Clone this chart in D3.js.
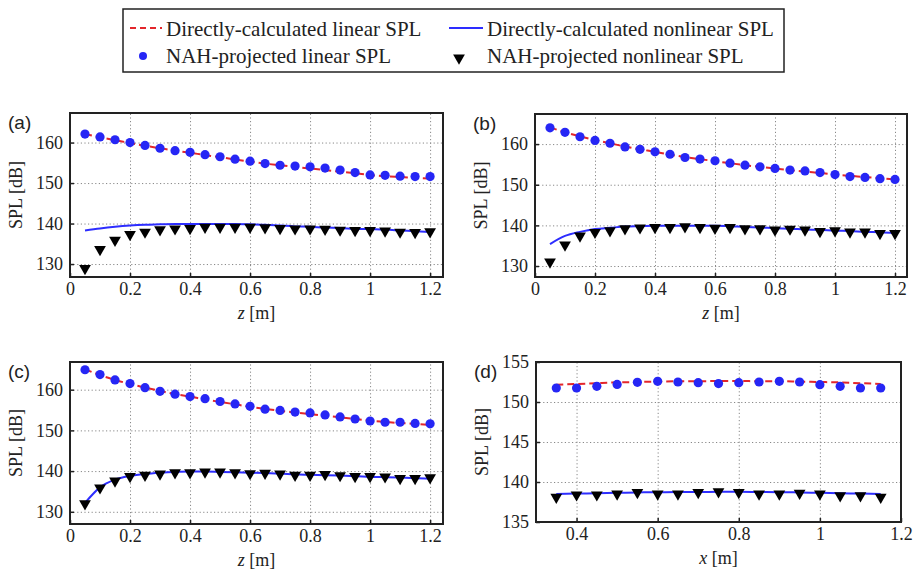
<!DOCTYPE html>
<html>
<head>
<meta charset="utf-8">
<script src="https://cdn.jsdelivr.net/npm/d3@7"></script>
<style>
  body { margin: 0; background: #fff; }
  text { font-family: "Liberation Serif", "Times New Roman", serif; fill: #222; }
</style>
</head>
<body>
<svg id="chart"></svg>
<script>
// chart data

var zVals = [0.05, 0.10, 0.15, 0.20, 0.25, 0.30, 0.35, 0.40, 0.45, 0.50, 0.55, 0.60,
             0.65, 0.70, 0.75, 0.80, 0.85, 0.90, 0.95, 1.00, 1.05, 1.10, 1.15, 1.20];
var xVals = [0.35, 0.40, 0.45, 0.50, 0.55, 0.60, 0.65, 0.70, 0.75, 0.80, 0.85, 0.90,
             0.95, 1.00, 1.05, 1.10, 1.15];

// (a)
var aLinLine = [162.1, 161.3, 160.6, 159.9, 159.2, 158.6, 158.0, 157.5, 156.9, 156.4, 155.8, 155.3,
                154.8, 154.4, 154.0, 153.6, 153.2, 152.8, 152.4, 152.0, 151.7, 151.5, 151.3, 151.1];
var aLinNah  = [162.1, 161.4, 160.7, 160.0, 159.3, 158.6, 158.0, 157.6, 157.0, 156.5, 155.9, 155.4,
                154.8, 154.4, 154.2, 154.0, 153.7, 153.2, 152.6, 152.0, 151.9, 151.7, 151.6, 151.6];
var aNonLine = [138.3, 138.8, 139.2, 139.5, 139.7, 139.8, 139.9, 139.9, 139.9, 139.9, 139.9, 139.8,
                139.7, 139.5, 139.3, 139.2, 139.0, 138.9, 138.7, 138.6, 138.5, 138.3, 138.1, 137.9];
var aNonNah  = [128.9, 133.6, 135.9, 137.3, 137.9, 138.5, 138.7, 138.8, 139.1, 139.1, 139.1, 139.1,
                139.0, 138.8, 138.7, 138.7, 138.6, 138.4, 138.3, 138.3, 138.2, 137.9, 137.8, 138.0];
// (b)
var bLinLine = [164.1, 162.9, 161.9, 161.0, 160.2, 159.4, 158.7, 158.1, 157.4, 156.8, 156.3, 155.8,
                155.3, 154.8, 154.4, 154.0, 153.6, 153.2, 152.9, 152.5, 152.2, 151.9, 151.6, 151.3];
var bLinNah  = [164.0, 162.9, 161.8, 160.9, 160.2, 159.3, 158.7, 158.1, 157.5, 156.7, 156.3, 155.9,
                155.3, 154.8, 154.4, 154.0, 153.6, 153.4, 153.0, 152.5, 152.0, 151.8, 151.5, 151.3];
var bNonLine = [135.4, 137.4, 138.4, 139.1, 139.4, 139.7, 139.8, 139.9, 139.9, 139.9, 139.9, 139.9,
                139.8, 139.6, 139.5, 139.3, 139.2, 139.0, 138.9, 138.7, 138.6, 138.4, 138.3, 138.1];
var bNonNah  = [131.0, 135.2, 137.4, 138.3, 138.7, 139.2, 139.4, 139.5, 139.5, 139.7, 139.5, 139.3,
                139.5, 139.2, 139.2, 138.9, 139.1, 138.9, 138.5, 138.7, 138.4, 138.4, 138.0, 138.0];
// (c)
var cLinLine = [165.0, 163.6, 162.4, 161.4, 160.5, 159.7, 158.9, 158.3, 157.6, 157.0, 156.4, 155.8,
                155.3, 154.8, 154.4, 154.0, 153.6, 153.2, 152.8, 152.4, 152.1, 151.8, 151.6, 151.3];
var cLinNah  = [164.9, 163.7, 162.4, 161.5, 160.5, 159.6, 158.9, 158.3, 157.8, 157.1, 156.5, 155.9,
                155.2, 154.9, 154.5, 154.3, 153.8, 153.3, 152.8, 152.3, 152.0, 152.0, 151.7, 151.6];
var cNonLine = [132.2, 136.0, 137.9, 138.8, 139.3, 139.6, 139.8, 139.9, 139.9, 139.8, 139.7, 139.6,
                139.5, 139.4, 139.2, 139.1, 139.0, 138.9, 138.8, 138.6, 138.5, 138.4, 138.3, 138.1];
var cNonNah  = [132.0, 135.9, 137.6, 138.7, 139.0, 139.3, 139.6, 139.6, 139.8, 139.8, 139.6, 139.4,
                139.5, 139.3, 139.0, 139.0, 139.2, 138.9, 138.7, 138.7, 138.6, 138.2, 138.2, 138.4];
// (d)
var dLinLine = [152.15, 152.25, 152.35, 152.45, 152.5, 152.55, 152.6, 152.6, 152.62, 152.62, 152.6,
                152.6, 152.55, 152.5, 152.45, 152.35, 152.25];
var dLinNah  = [151.75, 151.75, 151.96, 152.2, 152.46, 152.58, 152.5, 152.42, 152.3, 152.42, 152.5,
                152.58, 152.5, 152.17, 151.96, 151.75, 151.75];
var dNonLine = [138.5, 138.55, 138.6, 138.65, 138.7, 138.72, 138.75, 138.75, 138.78, 138.78, 138.75,
                138.72, 138.7, 138.65, 138.6, 138.55, 138.5];
var dNonNah  = [138.1, 138.4, 138.4, 138.5, 138.7, 138.5, 138.5, 138.7, 138.8, 138.7, 138.5, 138.5,
                138.6, 138.5, 138.3, 138.3, 138.1];

var zTicks = [0, 0.2, 0.4, 0.6, 0.8, 1, 1.2];
var xTicks = [0.4, 0.6, 0.8, 1, 1.2];
var splTicksZ = [130, 140, 150, 160];
var splTicksX = [135, 140, 145, 150, 155];

var legendLabels = ['Directly-calculated linear SPL', 'Directly-calculated nonlinear SPL',
                    'NAH-projected linear SPL', 'NAH-projected nonlinear SPL'];

// colours
var red = '#e3262b', blue = '#2626f5', lineBlue = '#2d2dff';

var width = 915, height = 570;

var svg = d3.select('#chart')
	.attr('width', width)
	.attr('height', height);

svg.append('rect').attr('width', width).attr('height', height).attr('fill', '#fff');

// panel layout (pixel boxes)
var panels = [
	{ tag: '(a)', x: zVals, lin: aLinLine, linN: aLinNah, non: aNonLine, nonN: aNonNah,
	  left: 70, right: 443, top: 113, bottom: 277, xDom: [0, 1.243], yDom: [126.8, 167.3],
	  xt: zTicks, yt: splTicksZ, xl: 'z', xlY: 319 },
	{ tag: '(b)', x: zVals, lin: bLinLine, linN: bLinNah, non: bNonLine, nonN: bNonNah,
	  left: 535, right: 907, top: 114, bottom: 277, xDom: [0, 1.24], yDom: [127.3, 167.4],
	  xt: zTicks, yt: splTicksZ, xl: 'z', xlY: 319 },
	{ tag: '(c)', x: zVals, lin: cLinLine, linN: cLinNah, non: cNonLine, nonN: cNonNah,
	  left: 70, right: 443, top: 362, bottom: 524, xDom: [0, 1.243], yDom: [127, 166.8],
	  xt: zTicks, yt: splTicksZ, xl: 'z', xlY: 566 },
	{ tag: '(d)', x: xVals, lin: dLinLine, linN: dLinNah, non: dNonLine, nonN: dNonNah,
	  left: 536, right: 901, top: 362, bottom: 522, xDom: [0.3, 1.2], yDom: [135, 155],
	  xt: xTicks, yt: splTicksX, xl: 'x', xlY: 564 }
];

var tri = d3.symbol().type(d3.symbolTriangle).size(60);

panels.forEach(function(p) {
	var w = p.right - p.left, h = p.bottom - p.top;

	var xScale = d3.scaleLinear().domain(p.xDom).range([0, w]);
	var yScale = d3.scaleLinear().domain(p.yDom).range([h, 0]);

	var g = svg.append('g').attr('transform', 'translate(' + p.left + ',' + p.top + ')');

	// grid + tick labels
	var xAxis = d3.axisBottom(xScale).tickValues(p.xt).tickSize(-h).tickPadding(5)
		.tickFormat(d => +d.toFixed(1));
	var yAxis = d3.axisLeft(yScale).tickValues(p.yt).tickSize(-w).tickPadding(7);

	var gx = g.append('g').attr('transform', 'translate(0,' + h + ')').call(xAxis);
	var gy = g.append('g').call(yAxis);
	[gx, gy].forEach(function(a) {
		a.select('.domain').remove();
		a.selectAll('line').attr('stroke', '#888').attr('stroke-dasharray', '1.2,2.4').attr('stroke-width', 1);
		a.selectAll('text').style('font-family', '"Liberation Serif", serif').style('font-size', '18px').attr('fill', '#222');
	});

	// short inward tick marks on the frame
	gx.selectAll('.tick').append('line').attr('y2', -4).attr('stroke', '#222').attr('stroke-width', 1.5);
	gy.selectAll('.tick').append('line').attr('x2', 4).attr('stroke', '#222').attr('stroke-width', 1.5);

	var line = d3.line().curve(d3.curveMonotoneX)
		.x((d, i) => xScale(p.x[i]))
		.y(d => yScale(d));

	g.append('path').datum(p.non)
		.attr('d', line).attr('fill', 'none')
		.attr('stroke', lineBlue).attr('stroke-width', 2);

	g.append('path').datum(p.lin)
		.attr('d', line).attr('fill', 'none')
		.attr('stroke', red).attr('stroke-width', 2).attr('stroke-dasharray', '7,4');

	g.selectAll('circle').data(p.linN).enter().append('circle')
		.attr('cx', (d, i) => xScale(p.x[i]))
		.attr('cy', d => yScale(d))
		.attr('r', 4.6)
		.attr('fill', blue);

	g.selectAll('path.tri').data(p.nonN).enter().append('path')
		.attr('class', 'tri')
		.attr('d', tri)
		.attr('transform', (d, i) => 'translate(' + xScale(p.x[i]) + ',' + yScale(d) + ') rotate(180)')
		.attr('fill', '#000');

	// frame
	g.append('rect').attr('width', w).attr('height', h)
		.attr('fill', 'none').attr('stroke', '#222').attr('stroke-width', 2);

	// panel tag
	svg.append('text')
		.attr('x', p.left - 62).attr('y', p.top + 16)
		.style('font-family', '"Liberation Sans", Arial, sans-serif')
		.style('font-size', '19px')
		.text(p.tag);

	// y label
	svg.append('text')
		.attr('transform', 'translate(' + (p.left - 48) + ',' + (p.top + h / 2) + ') rotate(-90)')
		.style('text-anchor', 'middle')
		.style('font-size', '18px')
		.text('SPL [dB]');

	// x label
	var xl = svg.append('text')
		.attr('x', p.left + w / 2).attr('y', p.xlY)
		.style('text-anchor', 'middle')
		.style('font-size', '18px');
	xl.append('tspan').style('font-style', 'italic').text(p.xl);
	xl.append('tspan').text(' [m]');
});

// legend
var leg = svg.append('g');
leg.append('rect').attr('x', 123).attr('y', 9).attr('width', 661).attr('height', 63)
	.attr('fill', '#fff').attr('stroke', '#222').attr('stroke-width', 1.5);

leg.append('line').attr('x1', 130).attr('x2', 162).attr('y1', 28).attr('y2', 28)
	.attr('stroke', red).attr('stroke-width', 2).attr('stroke-dasharray', '6,4');
leg.append('line').attr('x1', 449).attr('x2', 483).attr('y1', 28).attr('y2', 28)
	.attr('stroke', lineBlue).attr('stroke-width', 2);
leg.append('circle').attr('cx', 143).attr('cy', 56).attr('r', 4).attr('fill', blue);
leg.append('path').attr('d', tri).attr('transform', 'translate(459,58) rotate(180)').attr('fill', '#000');

var legPos = [[166, 36], [487, 36], [166, 63], [487, 63]];
leg.selectAll('text.lg').data(legendLabels).enter().append('text')
	.attr('class', 'lg')
	.attr('x', (d, i) => legPos[i][0])
	.attr('y', (d, i) => legPos[i][1])
	.style('font-size', '21px')
	.text(d => d);
</script>
</body>
</html>
